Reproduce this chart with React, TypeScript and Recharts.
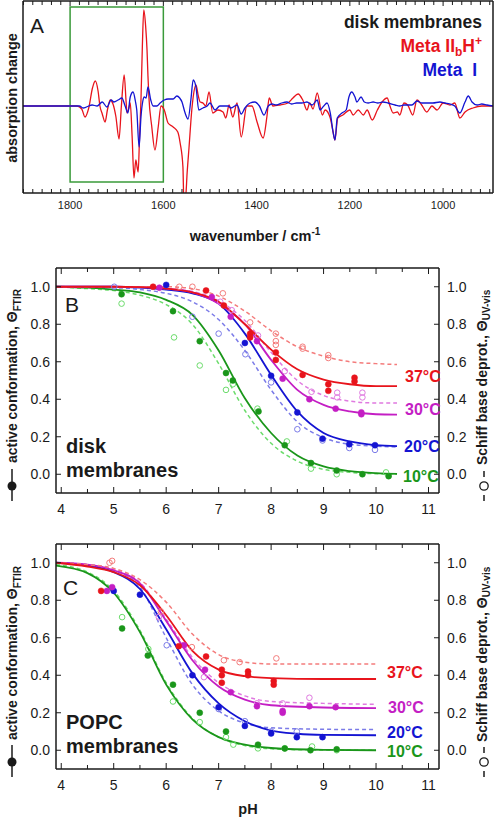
import React from "react";
import { ComposedChart, Line, Scatter, XAxis, YAxis, ReferenceArea } from "recharts";

const FONT = "'Liberation Sans', Arial, Helvetica, sans-serif";
const INK = "#1a1a1a";

const RED = "#e8141c";
const RED_L = "#f47c7c";
const MAG = "#c41ec4";
const MAG_L = "#e07ae0";
const BLUE = "#1414d2";
const BLUE_L = "#7b7be8";
const GREEN = "#1a961a";
const GREEN_L = "#6cdc6c";

// ---- panel A: difference spectra [wavenumber, absorption change (a.u.)]
const metaIIbH: [number, number][] = [
    [1901, 0], [1850, 0], [1800, 0], [1785, 0], [1775, -3], [1768, -11], [1760, -2], [1752, 18],
    [1746, 25], [1740, 15], [1736, 0], [1731, -8], [1725, -16], [1720, -4], [1714, 6], [1708, 2],
    [1702, -10], [1695, -33], [1690, 0], [1684, 31], [1680, 5], [1678, -7], [1674, -2], [1671, 3],
    [1667, -30], [1663, -72], [1659, -54], [1656, -62], [1654, -66], [1651, -30], [1648, 6],
    [1645, 60], [1642, 96], [1638, 80], [1635, 56], [1633, 30], [1631, 9], [1625, -20], [1618, -44],
    [1611, -21], [1605, 0], [1598, -4], [1590, -17], [1579, -21], [1569, -26], [1564, -37],
    [1558, -61], [1556, -95], [1552, -90], [1549, -67], [1545, -42], [1539, -4], [1536, 9],
    [1530, 21], [1525, 10], [1521, 4], [1515, 3], [1509, 0], [1502, 14], [1494, -7], [1483, -4],
    [1472, -6], [1466, -12], [1459, 1], [1451, -11], [1442, 3], [1433, -31], [1421, 0], [1410, 0],
    [1399, -16], [1386, -32], [1378, -11], [1373, 8], [1365, 0], [1350, 1], [1333, 3], [1322, 8],
    [1311, 12], [1301, 6], [1292, -4], [1286, 3], [1279, -3], [1270, 13], [1259, -9], [1253, -4],
    [1242, -12], [1236, -26], [1232, -34], [1226, -12], [1215, -9], [1200, -4], [1193, -9],
    [1182, -4], [1171, -9], [1163, -4], [1152, -14], [1141, -4], [1131, 4], [1120, 8], [1114, 0],
    [1107, -7], [1098, -6], [1093, -9], [1084, 3], [1076, 1], [1065, -9], [1056, 6], [1046, 1],
    [1035, -6], [1024, 0], [1013, -4], [1000, 3], [985, 1], [975, 3], [964, -12], [953, -6],
    [936, -2], [917, 0], [906, 0], [893, 0],
];

const metaI: [number, number][] = [
    [1901, 0], [1850, 0], [1800, 0], [1780, 0], [1772, -2], [1765, -1], [1760, 0], [1753, 1],
    [1742, 0], [1731, 4], [1721, -1], [1712, 6], [1706, 4], [1697, 6], [1689, 8], [1682, 0],
    [1676, -7], [1671, 9], [1665, 14], [1660, 5], [1657, -4], [1652, -41], [1648, -11], [1644, 5],
    [1641, 9], [1637, 8], [1633, 19], [1627, 6], [1622, 0], [1614, 0], [1607, 3], [1598, 6],
    [1590, 7], [1579, 7], [1571, 10], [1565, 8], [1560, 4], [1554, -6], [1547, -13], [1541, 6],
    [1536, 26], [1530, 19], [1524, -4], [1515, -2], [1506, 0], [1500, 3], [1489, -4], [1479, 0],
    [1461, 0], [1455, -2], [1442, 1], [1433, -8], [1425, -2], [1414, 3], [1404, 4], [1394, 0],
    [1384, -9], [1375, 0], [1367, 2], [1357, 1], [1346, 3], [1335, 4], [1325, 2], [1314, 3],
    [1303, 3], [1292, 4], [1281, 1], [1270, 6], [1264, -4], [1256, 0], [1249, 3], [1242, -7],
    [1236, -26], [1232, -34], [1227, -12], [1217, -7], [1208, -4], [1202, 9], [1196, 14],
    [1189, 9], [1185, 4], [1176, 9], [1169, 4], [1161, 3], [1150, 4], [1140, 3], [1129, 4],
    [1118, 3], [1103, 1], [1093, 0], [1084, 1], [1067, 1], [1056, 5], [1046, 3], [1033, 3],
    [1022, 3], [1007, 4], [996, 3], [985, 2], [975, 0], [964, -7], [953, 4], [946, 10], [938, 4],
    [927, 1], [917, 2], [906, 1], [893, 0],
];

const wnLabels = [1800, 1600, 1400, 1200, 1000];
const wnTicks = Array.from({ length: 51 }, (_, i) => 900 + i * 20);

// ---- panels B, C: pH titrations [pH, theta]
const phLabels = [4, 5, 6, 7, 8, 9, 10, 11];
const phTicks = [4, 4.5, 5, 5.5, 6, 6.5, 7, 7.5, 8, 8.5, 9, 9.5, 10, 10.5, 11];
const thetaTicks = [0, 0.2, 0.4, 0.6, 0.8, 1.0];

// disk membranes
const bFtir37 = [[5.75, 1.0], [6.76, 0.98], [7.1, 0.9], [7.6, 0.75], [7.6, 0.73], [8.09, 0.65], [8.09, 0.61], [8.6, 0.53], [9.09, 0.48], [9.09, 0.445], [9.59, 0.515], [9.59, 0.495]];
const bUv37 = [[6.25, 1.0], [6.5, 1.0], [7.08, 0.965], [7.6, 0.81], [8.09, 0.75], [8.09, 0.71], [8.09, 0.69], [8.6, 0.68], [8.6, 0.67], [9.09, 0.635], [9.09, 0.62]];
const bFtir30 = [[5.87, 0.995], [6.87, 0.945], [7.23, 0.84], [7.73, 0.71], [8.22, 0.51], [8.73, 0.4], [9.23, 0.35], [9.72, 0.32], [9.72, 0.33]];
const bUv30 = [[7.03, 0.92], [7.25, 0.875], [7.75, 0.74], [8.26, 0.55], [8.77, 0.44], [9.26, 0.435], [9.26, 0.41], [9.74, 0.435], [9.74, 0.41]];
const bFtir20 = [[6.0, 1.01], [7.5, 0.7], [8.0, 0.525], [8.5, 0.33], [8.98, 0.19], [9.49, 0.16], [9.98, 0.155]];
const bUv20 = [[5.01, 1.0], [6.5, 0.84], [7.0, 0.75], [7.51, 0.64], [8.0, 0.49], [8.5, 0.24], [8.98, 0.18], [9.49, 0.14], [9.98, 0.13]];
const bFtir10 = [[5.15, 0.96], [6.13, 0.87], [6.64, 0.71], [7.14, 0.54], [7.27, 0.5], [7.76, 0.335], [8.26, 0.155], [8.76, 0.06], [9.25, 0.02], [9.74, 0.0], [10.24, -0.01]];
const bUv10 = [[5.15, 0.91], [6.15, 0.73], [6.64, 0.58], [7.14, 0.45], [7.27, 0.48], [7.74, 0.35], [8.3, 0.175], [8.76, 0.03], [9.25, 0.0], [10.19, 0.01]];

const bFit37 = [[3.9, 1], [5, 1], [5.5, 0.998], [6, 0.99], [6.5, 0.97], [7, 0.92], [7.5, 0.8], [8, 0.665], [8.5, 0.56], [9, 0.505], [9.5, 0.48], [10, 0.47], [10.4, 0.47]];
const bUvFit37 = [[3.9, 1], [6, 1], [6.5, 0.99], [7, 0.95], [7.5, 0.87], [8, 0.765], [8.5, 0.68], [9, 0.63], [9.5, 0.6], [10, 0.59], [10.4, 0.585]];
const bFit30 = [[3.9, 1], [5, 1], [5.5, 0.998], [6, 0.99], [6.5, 0.97], [7, 0.91], [7.5, 0.8], [8, 0.61], [8.5, 0.45], [9, 0.37], [9.5, 0.335], [10, 0.32], [10.4, 0.318]];
const bUvFit30 = [[3.9, 1], [5.5, 1], [6, 0.99], [6.5, 0.975], [7, 0.925], [7.5, 0.82], [8, 0.65], [8.5, 0.5], [9, 0.42], [9.5, 0.39], [10, 0.38], [10.4, 0.38]];
const bFit20 = [[3.9, 1], [5, 1], [5.5, 0.995], [6, 0.985], [6.5, 0.965], [7, 0.91], [7.5, 0.75], [8, 0.53], [8.5, 0.335], [9, 0.22], [9.5, 0.175], [10, 0.155], [10.4, 0.15]];
const bUvFit20 = [[3.9, 1], [5, 0.995], [5.5, 0.985], [6, 0.965], [6.5, 0.92], [7, 0.825], [7.5, 0.66], [8, 0.45], [8.5, 0.28], [9, 0.195], [9.5, 0.16], [10, 0.15], [10.4, 0.145]];
const bFit10 = [[3.9, 1], [4.5, 0.995], [5, 0.985], [5.5, 0.97], [6, 0.93], [6.5, 0.85], [7, 0.66], [7.5, 0.405], [8, 0.22], [8.5, 0.1], [9, 0.042], [9.5, 0.017], [10, 0.006], [10.4, 0.002]];
const bUvFit10 = [[3.9, 1], [4.5, 0.99], [5, 0.98], [5.5, 0.955], [6, 0.905], [6.5, 0.8], [7, 0.59], [7.5, 0.34], [8, 0.165], [8.5, 0.07], [9, 0.026], [9.5, 0.01], [10, 0.003], [10.4, 0.001]];

// POPC membranes
const cFtir37 = [[4.76, 0.85], [6.24, 0.555], [6.76, 0.5], [7.06, 0.43], [7.06, 0.4], [7.06, 0.36], [7.56, 0.42], [7.56, 0.4], [8.05, 0.37], [8.05, 0.35]];
const cUv37 = [[4.92, 1.0], [4.97, 1.01], [5.9, 0.74], [6.49, 0.55], [7.1, 0.48], [7.4, 0.47], [8.1, 0.49]];
const cFtir30 = [[4.87, 0.85], [4.97, 0.87], [6.34, 0.56], [6.74, 0.43], [7.23, 0.31], [7.73, 0.235], [8.22, 0.21], [8.22, 0.2], [8.73, 0.235], [9.23, 0.23]];
const cUv30 = [[5.86, 0.71], [6.72, 0.39], [7.73, 0.25], [8.22, 0.25], [8.73, 0.28]];
const cFtir20 = [[5.0, 0.85], [5.5, 0.83], [6.5, 0.4], [7.0, 0.23], [7.5, 0.13], [8.0, 0.09], [8.49, 0.07], [8.98, 0.07]];
const cUv20 = [[6.01, 0.56], [7.0, 0.22], [7.5, 0.155], [8.0, 0.1], [8.49, 0.1]];
const cFtir10 = [[5.16, 0.65], [5.65, 0.505], [6.13, 0.35], [6.64, 0.2], [7.14, 0.1], [7.75, 0.03], [8.26, 0.01], [8.75, 0.0], [9.25, 0.005]];
const cUv10 = [[5.16, 0.71], [5.66, 0.54], [6.13, 0.26], [6.64, 0.15], [7.14, 0.07], [7.28, 0.03], [7.75, 0.01], [8.26, 0.01], [8.78, 0.02], [9.25, 0.0]];

const cFit37 = [[3.9, 1], [4.5, 0.98], [5, 0.95], [5.5, 0.88], [6, 0.72], [6.5, 0.53], [7, 0.43], [7.5, 0.395], [8, 0.385], [9, 0.38], [10, 0.38]];
const cUvFit37 = [[3.9, 1], [4.5, 0.99], [5, 0.97], [5.5, 0.91], [6, 0.79], [6.5, 0.62], [7, 0.51], [7.5, 0.47], [8, 0.46], [9, 0.46], [10, 0.46]];
const cFit30 = [[3.9, 1], [4.5, 0.99], [5, 0.96], [5.5, 0.89], [6, 0.69], [6.5, 0.48], [7, 0.34], [7.5, 0.27], [8, 0.24], [9, 0.228], [10, 0.225]];
const cUvFit30 = [[3.9, 1], [4.5, 0.99], [5, 0.965], [5.5, 0.895], [6, 0.7], [6.5, 0.495], [7, 0.36], [7.5, 0.29], [8, 0.26], [9, 0.25], [10, 0.245]];
const cFit20 = [[3.9, 1], [4.5, 0.985], [5, 0.95], [5.5, 0.86], [6, 0.645], [6.5, 0.41], [7, 0.25], [7.5, 0.155], [8, 0.105], [8.5, 0.088], [9, 0.082], [10, 0.08]];
const cUvFit20 = [[3.9, 1], [4.5, 0.99], [5, 0.96], [5.5, 0.87], [6, 0.6], [6.5, 0.35], [7, 0.21], [7.5, 0.145], [8, 0.12], [9, 0.112], [10, 0.11]];
const cFit10 = [[3.9, 0.985], [4.5, 0.945], [5, 0.84], [5.5, 0.63], [6, 0.35], [6.5, 0.165], [7, 0.07], [7.5, 0.03], [8, 0.012], [9, 0.002], [10, 0]];
const cUvFit10 = [[3.9, 0.99], [4.5, 0.95], [5, 0.85], [5.5, 0.64], [6, 0.36], [6.5, 0.17], [7, 0.07], [7.5, 0.025], [8, 0.008], [9, 0.001], [10, 0]];

const pts = (arr: number[][]) => arr.map(([x, v]) => ({ x, v }));

type Temp = { color: string; light: string; fit: number[][]; uvFit: number[][]; ftir: number[][]; uv: number[][] };

const diskSeries: Temp[] = [
    { color: GREEN, light: GREEN_L, fit: bFit10, uvFit: bUvFit10, ftir: bFtir10, uv: bUv10 },
    { color: BLUE, light: BLUE_L, fit: bFit20, uvFit: bUvFit20, ftir: bFtir20, uv: bUv20 },
    { color: MAG, light: MAG_L, fit: bFit30, uvFit: bUvFit30, ftir: bFtir30, uv: bUv30 },
    { color: RED, light: RED_L, fit: bFit37, uvFit: bUvFit37, ftir: bFtir37, uv: bUv37 },
];

const popcSeries: Temp[] = [
    { color: GREEN, light: GREEN_L, fit: cFit10, uvFit: cUvFit10, ftir: cFtir10, uv: cUv10 },
    { color: BLUE, light: BLUE_L, fit: cFit20, uvFit: cUvFit20, ftir: cFtir20, uv: cUv20 },
    { color: MAG, light: MAG_L, fit: cFit30, uvFit: cUvFit30, ftir: cFtir30, uv: cUv30 },
    { color: RED, light: RED_L, fit: cFit37, uvFit: cUvFit37, ftir: cFtir37, uv: cUv37 },
];

const frame = { stroke: INK, strokeWidth: 1.5 };

// ticks drawn inward; label only on the labelled positions
function wnTick(side: "bottom" | "top") {
    return (p: any) => {
        const { x, y, payload } = p;
        const v = payload.value;
        const major = v % 200 === 0;
        const len = major ? 5 : 4;
        return (
            <g key={`wn-${side}-${v}`}>
                <line x1={x} x2={x} y1={y} y2={side === "bottom" ? y - len : y + len} stroke={INK} strokeWidth={1} />
                {side === "bottom" && wnLabels.includes(v) && (
                    <text x={x} y={y + 16} textAnchor="middle" fontSize={11} fontFamily={FONT} fill={INK}>
                        {v}
                    </text>
                )}
            </g>
        );
    };
}

function phTick(side: "bottom" | "top") {
    return (p: any) => {
        const { x, y, payload } = p;
        const v = payload.value;
        const len = Number.isInteger(v) ? 6 : 4;
        return (
            <g key={`ph-${side}-${v}`}>
                <line x1={x} x2={x} y1={y} y2={side === "bottom" ? y - len : y + len} stroke={INK} strokeWidth={1} />
                {side === "bottom" && phLabels.includes(v) && (
                    <text x={x} y={y + 21} textAnchor="middle" fontSize={14} fontFamily={FONT} fill={INK}>
                        {v}
                    </text>
                )}
            </g>
        );
    };
}

function thetaTick(side: "left" | "right") {
    return (p: any) => {
        const { x, y, payload } = p;
        const v = payload.value;
        return (
            <g key={`th-${side}-${v}`}>
                <line x1={x} x2={side === "left" ? x + 5 : x - 5} y1={y} y2={y} stroke={INK} strokeWidth={1} />
                <text
                    x={side === "left" ? x - 6 : x + 8}
                    y={y + 5}
                    textAnchor={side === "left" ? "end" : "start"}
                    fontSize={14}
                    fontFamily={FONT}
                    fill={INK}
                >
                    {v.toFixed(1)}
                </text>
            </g>
        );
    };
}

const filledDot = (color: string) => (p: any) =>
    <circle cx={p.cx} cy={p.cy} r={3} fill={color} stroke={color} strokeWidth={0.5} />;
const openDot = (color: string) => (p: any) =>
    <circle cx={p.cx} cy={p.cy} r={2.8} fill="none" stroke={color} strokeWidth={1} />;

// axes get 1px of room (a zero-sized axis is not drawn); margins take the rest
function SpectraChart() {
    return (
        <ComposedChart width={494} height={250} margin={{ top: 0, right: 0, left: 22, bottom: 56 }}>
            <XAxis xAxisId="b" type="number" dataKey="x" domain={[893, 1901]} reversed allowDataOverflow
                ticks={wnTicks} interval={0} height={1} tickSize={0} tickMargin={0} tickLine={false}
                axisLine={frame} tick={wnTick("bottom")} />
            <XAxis xAxisId="t" orientation="top" type="number" dataKey="x" domain={[893, 1901]} reversed
                allowDataOverflow ticks={wnTicks} interval={0} height={1} tickSize={0} tickMargin={0}
                tickLine={false} axisLine={frame} tick={wnTick("top")} />
            <YAxis yAxisId="l" type="number" dataKey="v" domain={[-87, 105]} allowDataOverflow width={1}
                tick={false} tickLine={false} axisLine={frame} />
            <YAxis yAxisId="r" orientation="right" type="number" dataKey="v" domain={[-87, 105]}
                allowDataOverflow width={1} tick={false} tickLine={false} axisLine={frame} />
            <ReferenceArea xAxisId="b" yAxisId="l" x1={1800} x2={1600} y1={-76} y2={99}
                fill="none" fillOpacity={0} stroke="#3a9a3a" strokeWidth={1.5} ifOverflow="visible" />
            <Line xAxisId="b" yAxisId="l" data={pts(metaIIbH)} dataKey="v" type="monotone" stroke={RED}
                strokeWidth={1.3} dot={false} isAnimationActive={false} />
            <Line xAxisId="t" yAxisId="r" data={pts(metaI)} dataKey="v" type="monotone" stroke={BLUE}
                strokeWidth={1.3} dot={false} isAnimationActive={false} />
        </ComposedChart>
    );
}

const T_H = 280;

function TitrationChart({ series, top, bottom }: { series: Temp[]; top: number; bottom: number }) {
    const items: React.ReactNode[] = [];
    series.forEach((s, i) => {
        items.push(
            <Line key={`ud${i}`} xAxisId="t" yAxisId="r" data={pts(s.uvFit)} dataKey="v" type="monotone"
                stroke={s.light} strokeWidth={1.5} strokeDasharray="4 3" dot={false} isAnimationActive={false} />,
            <Scatter key={`uo${i}`} xAxisId="t" yAxisId="r" data={pts(s.uv)} shape={openDot(s.light)}
                isAnimationActive={false} />,
            <Line key={`fs${i}`} xAxisId="b" yAxisId="l" data={pts(s.fit)} dataKey="v" type="monotone"
                stroke={s.color} strokeWidth={1.8} dot={false} isAnimationActive={false} />,
            <Scatter key={`fo${i}`} xAxisId="b" yAxisId="l" data={pts(s.ftir)} shape={filledDot(s.color)}
                isAnimationActive={false} />
        );
    });
    return (
        <ComposedChart width={494} height={T_H} margin={{ top: top - 1, right: 54, left: 55, bottom: bottom - 1 }}>
            <XAxis xAxisId="b" type="number" dataKey="x" domain={[3.9, 11.2]} allowDataOverflow ticks={phTicks}
                interval={0} height={1} tickSize={0} tickMargin={0} tickLine={false} axisLine={frame}
                tick={phTick("bottom")} />
            <XAxis xAxisId="t" orientation="top" type="number" dataKey="x" domain={[3.9, 11.2]} allowDataOverflow
                ticks={phTicks} interval={0} height={1} tickSize={0} tickMargin={0} tickLine={false}
                axisLine={frame} tick={phTick("top")} />
            <YAxis yAxisId="l" type="number" dataKey="v" domain={[-0.1, 1.1]} allowDataOverflow ticks={thetaTicks}
                interval={0} width={1} tickSize={0} tickMargin={0} tickLine={false} axisLine={frame}
                tick={thetaTick("left")} />
            <YAxis yAxisId="r" orientation="right" type="number" dataKey="v" domain={[-0.1, 1.1]} allowDataOverflow
                ticks={thetaTicks} interval={0} width={1} tickSize={0} tickMargin={0} tickLine={false}
                axisLine={frame} tick={thetaTick("right")} />
            {items}
        </ComposedChart>
    );
}

const boldText = { fontFamily: FONT, fontWeight: 700 } as const;

function SideLabels({ bottom, symbolY }: { bottom: number; symbolY: number }) {
    return (
        <g>
            <text transform={`translate(17, ${bottom}) rotate(-90)`} fontSize={14} fill={INK} {...boldText}>
                active conformation, Θ<tspan dy={4} fontSize={10}>FTIR</tspan>
            </text>
            <line x1={12} x2={12} y1={symbolY - 17} y2={symbolY + 15} stroke={INK} strokeWidth={1.5} />
            <circle cx={12} cy={symbolY} r={4.5} fill={INK} />
            <text transform={`translate(487, ${bottom + 2}) rotate(-90)`} fontSize={14} fill={INK} {...boldText}>
                Schiff base deprot., Θ<tspan dy={3} fontSize={10}>UV-vis</tspan>
            </text>
            <line x1={484} x2={484} y1={symbolY - 15} y2={symbolY - 9} stroke={INK} strokeWidth={1.5} />
            <line x1={484} x2={484} y1={symbolY + 9} y2={symbolY + 15} stroke={INK} strokeWidth={1.5} />
            <circle cx={484} cy={symbolY} r={4.2} fill="none" stroke={INK} strokeWidth={1.3} />
        </g>
    );
}

function Overlay() {
    const temp = (label: string, x: number, y: number, color: string) => (
        <text x={x} y={y} fontSize={16} fill={color} {...boldText}>{label}</text>
    );
    return (
        <svg width={494} height={820} style={{ position: "absolute", left: 0, top: 0, pointerEvents: "none" }}>
            {/* panel A */}
            <text x={30} y={33} fontSize={21} fontFamily={FONT} fill={INK}>A</text>
            <text x={482} y={28} textAnchor="end" fontSize={17.5} fill={INK} {...boldText}>disk membranes</text>
            <text x={482} y={52} textAnchor="end" fontSize={17.5} fill={RED} {...boldText}>
                Meta II<tspan dy={4} fontSize={12}>b</tspan><tspan dy={-4}>H</tspan>
                <tspan dy={-7} fontSize={12}>+</tspan>
            </text>
            <text x={477} y={76} textAnchor="end" fontSize={17.5} fill={BLUE} {...boldText}>Meta{"\u00a0\u00a0"}I</text>
            <text transform="translate(17, 98) rotate(-90)" textAnchor="middle" fontSize={14.5} fill={INK} {...boldText}>
                absorption change
            </text>
            <text x={255} y={241} textAnchor="middle" fontSize={14.5} fill={INK} {...boldText}>
                wavenumber / cm<tspan dy={-6} fontSize={10}>-1</tspan>
            </text>

            {/* panel B */}
            <text x={65} y={312} fontSize={21} fontFamily={FONT} fill={INK}>B</text>
            <text x={66} y={453} fontSize={20} fill={INK} {...boldText}>disk</text>
            <text x={66} y={477} fontSize={20} fill={INK} {...boldText}>membranes</text>
            {temp("37°C", 405, 382, RED)}
            {temp("30°C", 405, 415, MAG)}
            {temp("20°C", 404, 452, BLUE)}
            {temp("10°C", 403, 482, GREEN)}
            <SideLabels bottom={463} symbolY={486} />

            {/* panel C */}
            <text x={63} y={595} fontSize={21} fontFamily={FONT} fill={INK}>C</text>
            <text x={66} y={729} fontSize={20} fill={INK} {...boldText}>POPC</text>
            <text x={66} y={753} fontSize={20} fill={INK} {...boldText}>membranes</text>
            {temp("37°C", 387, 678, RED)}
            {temp("30°C", 388, 713, MAG)}
            {temp("20°C", 387, 738, BLUE)}
            {temp("10°C", 387, 757, GREEN)}
            <SideLabels bottom={740} symbolY={762} />
            <text x={248} y={814} textAnchor="middle" fontSize={14.5} fill={INK} {...boldText}>pH</text>
        </svg>
    );
}

export default function App() {
    return (
        <div style={{ position: "absolute", left: 0, top: 0, width: 494, height: 820, background: "#fff", fontFamily: FONT }}>
            <div style={{ position: "absolute", left: 0, top: 0 }}>
                <SpectraChart />
            </div>
            <div style={{ position: "absolute", left: 0, top: 260 }}>
                <TitrationChart series={diskSeries} top={8} bottom={260 + T_H - 493} />
            </div>
            <div style={{ position: "absolute", left: 0, top: 530 }}>
                <TitrationChart series={popcSeries} top={14} bottom={530 + T_H - 769} />
            </div>
            <Overlay />
        </div>
    );
}
